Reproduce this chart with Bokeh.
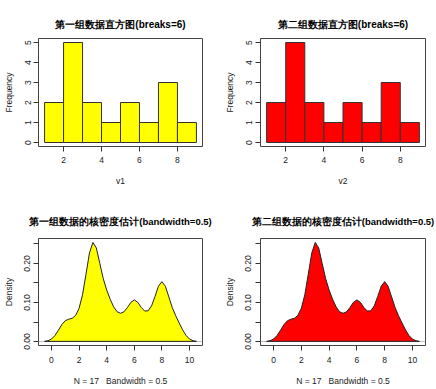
from bokeh.plotting import figure
from bokeh.layouts import column, row
from bokeh.models import Range1d, FixedTicker, Span
from bokeh.embed import file_html
from bokeh.resources import INLINE

# ---------------- data ----------------
hist_breaks = [1, 2, 3, 4, 5, 6, 7, 8, 9]
v1_counts = [2, 5, 2, 1, 2, 1, 3, 1]
v2_counts = [2, 5, 2, 1, 2, 1, 3, 1]
hist_xticks = [2, 4, 6, 8]
hist_yticks = [0, 1, 2, 3, 4, 5]

dens_x = [-0.5, -0.25, 0.0, 0.25, 0.5, 0.75, 1.0, 1.25, 1.5, 1.75,
          2.0, 2.25, 2.5, 2.75, 3.0, 3.25, 3.5, 3.75, 4.0, 4.25,
          4.5, 4.75, 5.0, 5.25, 5.5, 5.75, 6.0, 6.25, 6.5, 6.75,
          7.0, 7.25, 7.5, 7.75, 8.0, 8.25, 8.5, 8.75, 9.0, 9.25,
          9.5, 9.75, 10.0, 10.25, 10.5]
dens_y1 = [0.0005, 0.0021, 0.0064, 0.0153, 0.0290, 0.0435, 0.0534, 0.0572, 0.0595, 0.0670,
           0.0851, 0.1199, 0.1724, 0.2266, 0.2538, 0.2398, 0.2003, 0.1612, 0.1320, 0.1086,
           0.0891, 0.0765, 0.0724, 0.0761, 0.0870, 0.1004, 0.1067, 0.1005, 0.0875, 0.0782,
           0.0787, 0.0914, 0.1154, 0.1418, 0.1535, 0.1416, 0.1144, 0.0872, 0.0660, 0.0476,
           0.0300, 0.0155, 0.0064, 0.0021, 0.0005]
dens_y2 = [0.0005, 0.0021, 0.0064, 0.0153, 0.0290, 0.0435, 0.0534, 0.0572, 0.0595, 0.0670,
           0.0851, 0.1199, 0.1724, 0.2266, 0.2538, 0.2398, 0.2003, 0.1612, 0.1320, 0.1086,
           0.0891, 0.0765, 0.0724, 0.0761, 0.0870, 0.1004, 0.1067, 0.1005, 0.0875, 0.0782,
           0.0787, 0.0914, 0.1154, 0.1418, 0.1535, 0.1416, 0.1144, 0.0872, 0.0660, 0.0476,
           0.0300, 0.0155, 0.0064, 0.0021, 0.0005]
dens_xticks = [0, 2, 4, 6, 8, 10]
dens_yticks = [0.0, 0.05, 0.1, 0.15, 0.2, 0.25]
dens_ylabels = ["0.00", "", "0.10", "", "0.20", ""]

titles = ["第一组数据直方图(breaks=6)", "第二组数据直方图(breaks=6)",
          "第一组数据的核密度估计(bandwidth=0.5)", "第二组数据的核密度估计(bandwidth=0.5)"]
hist_xlabels = ["v1", "v2"]
dens_xlabel = "N = 17\u00a0\u00a0\u00a0Bandwidth = 0.5"
colors = ["#FFFF00", "#FF0000"]

FONT = "Liberation Sans"
TXT = "#1a1a1a"


def style(p, title_size, title_standoff, xl_standoff, xlab_standoff, yl_standoff, ylab_standoff):
    p.title.align = "center"
    p.title.text_font = FONT
    p.title.text_font_size = title_size
    p.title.text_font_style = "bold"
    p.title.text_color = "#000000"
    p.title.standoff = title_standoff
    p.xgrid.visible = False
    p.ygrid.visible = False
    p.outline_line_color = "#444444"
    p.outline_line_width = 1
    p.background_fill_color = "white"
    p.border_fill_color = "white"
    for ax in (p.xaxis[0], p.yaxis[0]):
        ax.axis_line_color = None
        ax.major_tick_out = 5
        ax.major_tick_in = 0
        ax.major_tick_line_color = "#333333"
        ax.minor_tick_out = 0
        ax.minor_tick_in = 0
        ax.major_label_text_font = FONT
        ax.major_label_text_font_size = "8.5px"
        ax.major_label_text_color = TXT
        ax.axis_label_text_font = FONT
        ax.axis_label_text_font_size = "8.5px"
        ax.axis_label_text_font_style = "normal"
        ax.axis_label_text_color = TXT
    p.xaxis[0].major_label_standoff = xl_standoff
    p.xaxis[0].axis_label_standoff = xlab_standoff
    p.yaxis[0].major_label_standoff = yl_standoff
    p.yaxis[0].axis_label_standoff = ylab_standoff
    p.yaxis[0].major_label_orientation = "vertical"


def hist_fig(i, width, left, right):
    p = figure(width=width, height=195, title=titles[i],
               x_range=Range1d(0.68, 9.32), y_range=Range1d(-0.2, 5.2),
               output_backend="svg", toolbar_location=None,
               min_border_left=left, min_border_right=right,
               min_border_top=38, min_border_bottom=49)
    p.quad(left=hist_breaks[:-1], right=hist_breaks[1:], top=[v1_counts, v2_counts][i], bottom=0,
           fill_color=colors[i], line_color="#333333", line_width=1)
    p.xaxis.axis_label = hist_xlabels[i]
    p.yaxis.axis_label = "Frequency"
    p.xaxis.ticker = FixedTicker(ticks=hist_xticks)
    p.yaxis.ticker = FixedTicker(ticks=hist_yticks)
    style(p, "10px", 17, 5, 10, 3 if i == 0 else 4, 8)
    return p


def dens_fig(i, width, left, right):
    p = figure(width=width, height=194, title=titles[2 + i],
               x_range=Range1d(-0.94, 10.94), y_range=Range1d(-0.0101, 0.2639),
               output_backend="svg", toolbar_location=None,
               min_border_left=left, min_border_right=right,
               min_border_top=43, min_border_bottom=44)
    zero = Span(location=0, dimension="width", line_color="#BEBEBE", line_width=1, level="underlay")
    p.add_layout(zero)
    p.patch(dens_x, [dens_y1, dens_y2][i], fill_color=colors[i], line_color="#222222", line_width=1)
    p.xaxis.axis_label = dens_xlabel
    p.yaxis.axis_label = "Density"
    p.xaxis.ticker = FixedTicker(ticks=dens_xticks)
    p.yaxis.ticker = FixedTicker(ticks=dens_yticks)
    p.yaxis.major_label_overrides = dict(zip(dens_yticks, dens_ylabels))
    style(p, "9.5px", 23, 6, 10, 3 if i == 0 else 4, 8)
    return p


p1 = hist_fig(0, 221, 36, 19)
p2 = hist_fig(1, 215, 39, 11)
p3 = dens_fig(0, 221, 36, 19)
p4 = dens_fig(1, 215, 39, 11)

layout = column(row(p1, p2), row(p3, p4))

open("out.html", "w").write(file_html(layout, INLINE))
